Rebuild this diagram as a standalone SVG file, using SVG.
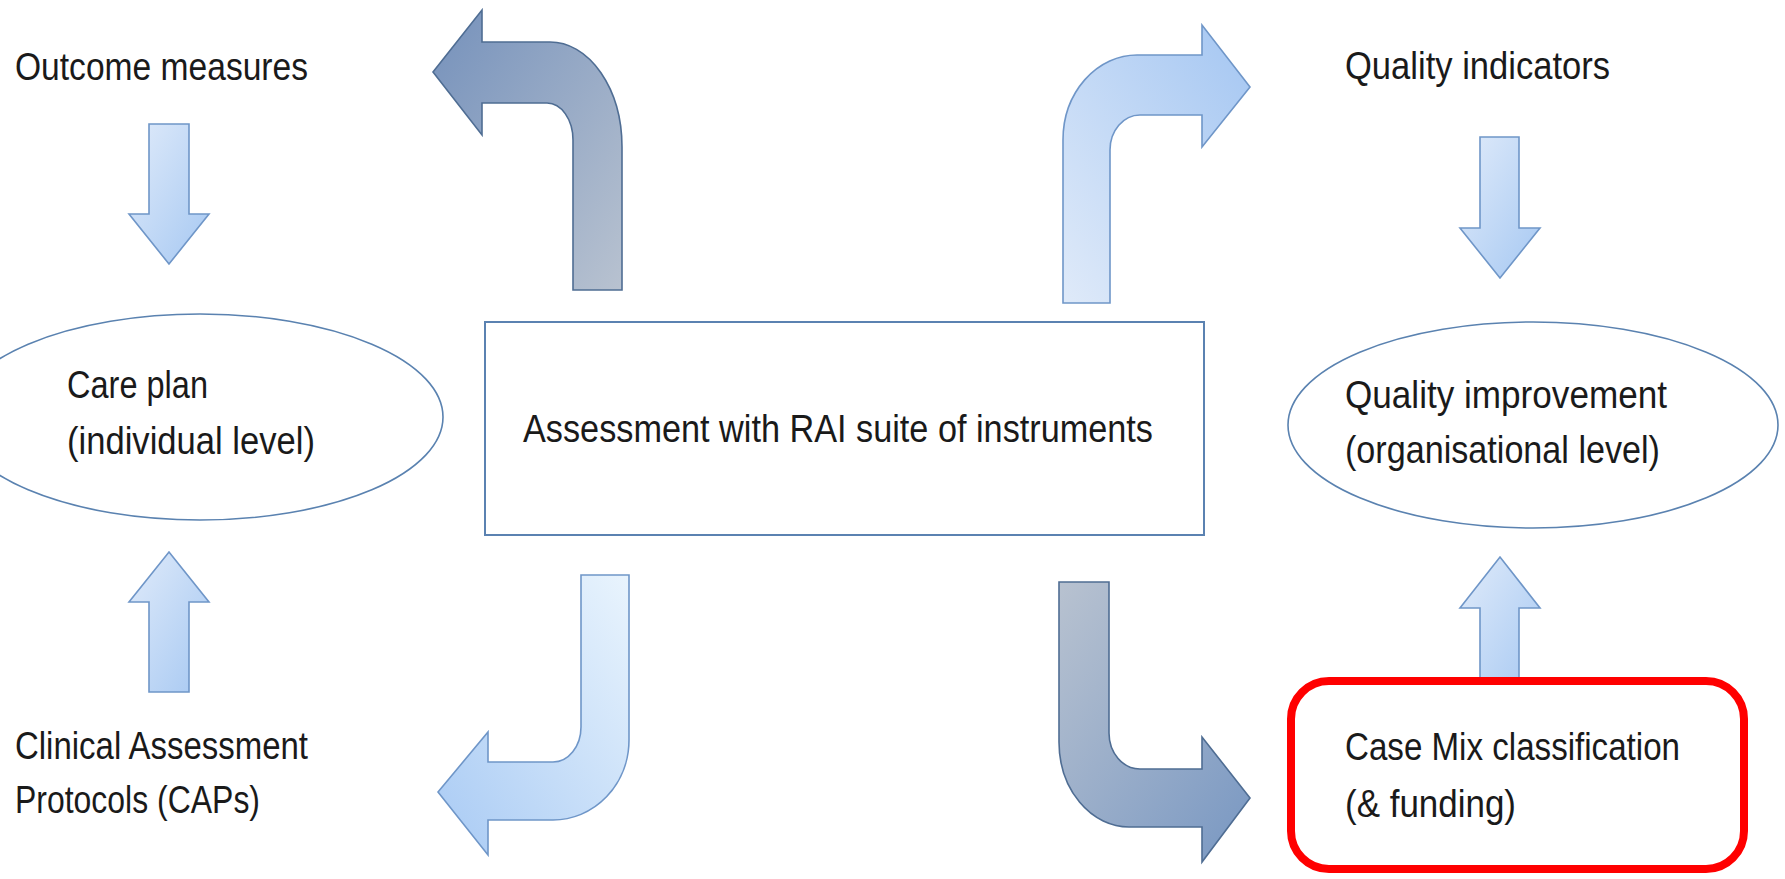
<svg xmlns="http://www.w3.org/2000/svg" width="1785" height="879" viewBox="0 0 1785 879">
<defs>
<linearGradient id="gDarkA" x1="0" y1="0" x2="1" y2="1"><stop offset="0" stop-color="#7591bb"/><stop offset="1" stop-color="#b8c2d0"/></linearGradient>
<linearGradient id="gDarkB" x1="0" y1="0" x2="1" y2="1"><stop offset="0" stop-color="#b8c2d0"/><stop offset="1" stop-color="#7897c2"/></linearGradient>
<linearGradient id="gLightUp" x1="0" y1="1" x2="1" y2="0"><stop offset="0" stop-color="#dfeaf9"/><stop offset="1" stop-color="#a4c6f2"/></linearGradient>
<linearGradient id="gLightBL" x1="0" y1="1" x2="1" y2="0"><stop offset="0" stop-color="#a8caf4"/><stop offset="1" stop-color="#e9f4fd"/></linearGradient>
<linearGradient id="gStraight" x1="0" y1="0" x2="1" y2="1"><stop offset="0" stop-color="#e0ebfa"/><stop offset="1" stop-color="#a6c8f2"/></linearGradient>
</defs>
<style>
text{font-family:"Liberation Sans",Arial,sans-serif;font-size:38px;fill:#1a1a1a;}
.dark{stroke:#4f6d93;stroke-width:1.6;stroke-linejoin:miter;}
.light{stroke:#6f96c8;stroke-width:1.6;stroke-linejoin:miter;}
.oval{fill:#ffffff;stroke:#5a82b0;stroke-width:1.6;}
.box{fill:#ffffff;stroke:#5b82b1;stroke-width:2;}
.red{fill:#ffffff;stroke:#ff0000;stroke-width:8;}
</style>
<rect width="1785" height="879" fill="#ffffff"/>

<g id="connectors">
<path id="arrow-top-left" class="dark" fill="url(#gDarkA)" d="M433,72 L482,10 L482,42 L550,42 A72,105 0 0 1 622,147 L622,290 L573,290 L573,140 A26,37 0 0 0 547,103 L482,103 L482,135 Z"/>
<path id="arrow-top-right" class="light" fill="url(#gLightUp)" d="M1250,87 L1202,25 L1202,55 L1137,55 A74,85 0 0 0 1063,140 L1063,303 L1110,303 L1110,150 A30,35 0 0 1 1140,115 L1202,115 L1202,147 Z"/>
<path id="arrow-bottom-left" class="light" fill="url(#gLightBL)" d="M438,792 L488,732 L488,762 L553,762 A28,35 0 0 0 581,727 L581,575 L629,575 L629,740 A76,80 0 0 1 553,820 L488,820 L488,855 Z"/>
<path id="arrow-bottom-right" class="dark" fill="url(#gDarkB)" d="M1250,798 L1202,737 L1202,769 L1140,769 A31,36 0 0 1 1109,733 L1109,582 L1059,582 L1059,742 A70,85 0 0 0 1129,827 L1202,827 L1202,862 Z"/>
<path id="arrow-outcome-care" class="light" fill="url(#gStraight)" d="M149,124 L189,124 L189,214 L209,214 L169,264 L129,214 L149,214 Z"/>
<path id="arrow-caps-care" class="light" fill="url(#gStraight)" d="M149,692 L189,692 L189,602 L209,602 L169,552 L129,602 L149,602 Z"/>
<path id="arrow-qi-improvement" class="light" fill="url(#gStraight)" d="M1480,137 L1519,137 L1519,228 L1540,228 L1500,278 L1460,228 L1480,228 Z"/>
<path id="arrow-casemix-improvement" class="light" fill="url(#gStraight)" d="M1480,696 L1519,696 L1519,608 L1540,608 L1500,557 L1460,608 L1480,608 Z"/>
</g>

<g id="node-outcome">
<text x="15" y="80" textLength="293" lengthAdjust="spacingAndGlyphs">Outcome measures</text>
</g>

<g id="node-care-plan">
<ellipse class="oval" cx="200" cy="417" rx="243" ry="103"/>
<text x="67" y="398" textLength="141" lengthAdjust="spacingAndGlyphs">Care plan</text>
<text x="67" y="454" textLength="248" lengthAdjust="spacingAndGlyphs">(individual level)</text>
</g>

<g id="node-caps">
<text x="15" y="759" textLength="293" lengthAdjust="spacingAndGlyphs">Clinical Assessment</text>
<text x="15" y="813" textLength="245" lengthAdjust="spacingAndGlyphs">Protocols (CAPs)</text>
</g>

<g id="node-assessment">
<rect class="box" x="485" y="322" width="719" height="213"/>
<text x="523" y="442" textLength="630" lengthAdjust="spacingAndGlyphs">Assessment with RAI suite of instruments</text>
</g>

<g id="node-quality-indicators">
<text x="1345" y="79" textLength="265" lengthAdjust="spacingAndGlyphs">Quality indicators</text>
</g>

<g id="node-quality-improvement">
<ellipse class="oval" cx="1533" cy="425" rx="245" ry="103"/>
<text x="1345" y="408" textLength="322" lengthAdjust="spacingAndGlyphs">Quality improvement</text>
<text x="1345" y="463" textLength="315" lengthAdjust="spacingAndGlyphs">(organisational level)</text>
</g>

<g id="node-case-mix">
<rect class="red" x="1291" y="681" width="453" height="188" rx="38" ry="38"/>
<text x="1345" y="760" textLength="335" lengthAdjust="spacingAndGlyphs">Case Mix classification</text>
<text x="1345" y="817" textLength="171" lengthAdjust="spacingAndGlyphs">(&amp; funding)</text>
</g>
</svg>
